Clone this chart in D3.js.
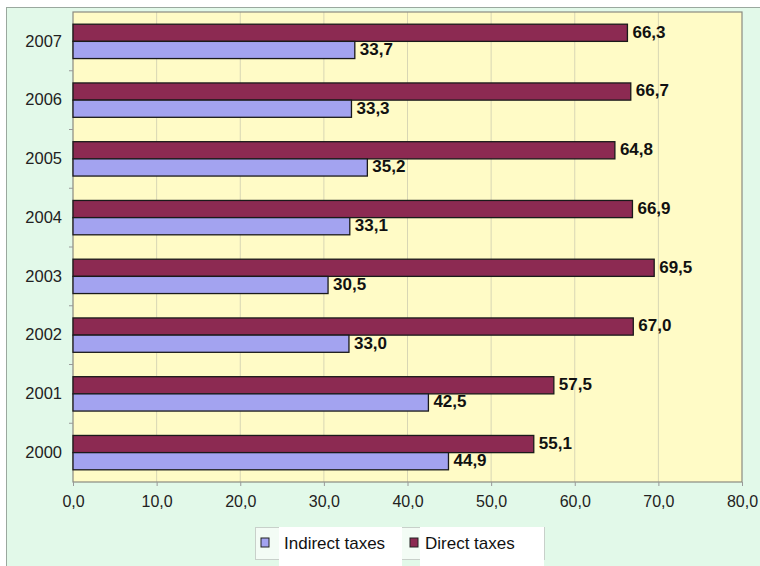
<!DOCTYPE html>
<html>
<head>
<meta charset="utf-8">
<script src="https://cdn.jsdelivr.net/npm/d3@7"></script>
<style>
  body { margin: 0; background: #fff; }
  text { font-family: "Liberation Sans", Arial, sans-serif; }
</style>
</head>
<body>
<div id="chart"></div>
<script>
// dados
var anos = ["2007", "2006", "2005", "2004", "2003", "2002", "2001", "2000"];
var diretos = [66.3, 66.7, 64.8, 66.9, 69.5, 67.0, 57.5, 55.1];
var indiretos = [33.7, 33.3, 35.2, 33.1, 30.5, 33.0, 42.5, 44.9];
var series = ["Indirect taxes", "Direct taxes"];
var ticksX = [0, 10, 20, 30, 40, 50, 60, 70, 80];

var cores = { "Indirect taxes": "#a3a3f0", "Direct taxes": "#8c2a52" };
var fmt = d => d.toFixed(1).replace(".", ",");

var W = 760, H = 566;
var plot = { left: 73, top: 12, right: 742, bottom: 482 };

var svg = d3.select("#chart").append("svg")
    .attr("width", W).attr("height", H);

// fundo
svg.append("rect")
    .attr("x", 6.5).attr("y", 7.5).attr("width", 770).attr("height", 570)
    .attr("fill", "#e2f9e9").attr("stroke", "#9aa89e");

svg.append("rect")
    .attr("x", plot.left).attr("y", plot.top)
    .attr("width", plot.right - plot.left).attr("height", plot.bottom - plot.top)
    .attr("fill", "#fffbc6");

/*
 * As escalas
 */
var x = d3.scaleLinear().domain([0, 80]).range([plot.left, plot.right]);
var y = d3.scaleBand().domain(anos).range([plot.top, plot.bottom]);
var y1 = d3.scaleBand().domain(["Direct taxes", "Indirect taxes"])
    .range([0, y.bandwidth()]).paddingOuter(0.71).paddingInner(0);

// grade
svg.append("g").selectAll("line")
    .data(ticksX.slice(1, -1))
    .enter().append("line")
      .attr("x1", d => x(d)).attr("x2", d => x(d))
      .attr("y1", plot.top).attr("y2", plot.bottom)
      .attr("stroke", "#d8d6b4").attr("stroke-width", 1);

svg.append("rect")
    .attr("x", plot.left).attr("y", plot.top)
    .attr("width", plot.right - plot.left).attr("height", plot.bottom - plot.top)
    .attr("fill", "none").attr("stroke", "#8a8a80").attr("stroke-width", 1.2);

/*
 * As marcas
 */
var linhas = anos.map((a, i) => ({ ano: a, vals: [
    { s: "Direct taxes", v: diretos[i] },
    { s: "Indirect taxes", v: indiretos[i] }] }));

var grupos = svg.append("g").selectAll("g")
    .data(linhas).enter().append("g")
      .attr("transform", d => "translate(0," + y(d.ano) + ")");

grupos.selectAll("rect")
    .data(d => d.vals).enter().append("rect")
      .attr("x", x(0))
      .attr("y", d => y1(d.s))
      .attr("width", d => x(d.v) - x(0))
      .attr("height", y1.bandwidth())
      .attr("fill", d => cores[d.s])
      .attr("stroke", "#1a1a1a").attr("stroke-width", 1.3);

grupos.selectAll("text")
    .data(d => d.vals).enter().append("text")
      .attr("x", d => x(d.v) + 5)
      .attr("y", d => y1(d.s) + y1.bandwidth() / 2 - 1)
      .attr("dy", "0.35em")
      .attr("font-size", 17).attr("font-weight", "bold").attr("fill", "#111")
      .text(d => fmt(d.v));

/*
 * Os eixos
 */
var eixoY = svg.append("g")
    .attr("transform", "translate(" + plot.left + ",0)")
    .call(d3.axisLeft(y).tickSize(0).tickPadding(11));
eixoY.select(".domain").remove();
eixoY.selectAll("text").attr("font-size", 16.5).attr("fill", "#222")
    .style("font-family", "Liberation Sans, Arial, sans-serif");
// pequenos traços entre categorias
svg.append("g").selectAll("line")
    .data(anos.slice(1))
    .enter().append("line")
      .attr("x1", plot.left - 4).attr("x2", plot.left)
      .attr("y1", d => y(d)).attr("y2", d => y(d))
      .attr("stroke", "#999");

var eixoX = svg.append("g")
    .attr("transform", "translate(0," + plot.bottom + ")")
    .call(d3.axisBottom(x).tickValues(ticksX).tickFormat(fmt).tickSize(4).tickPadding(10));
eixoX.select(".domain").remove();
eixoX.selectAll("line").attr("stroke", "#999");
eixoX.selectAll("text").attr("font-size", 16).attr("fill", "#222")
    .style("font-family", "Liberation Sans, Arial, sans-serif");

/*
 * A legenda
 */
var leg = svg.append("g");
leg.append("rect")
    .attr("x", 255.5).attr("y", 527.5).attr("width", 289).attr("height", 32)
    .attr("fill", "#f3fcf5").attr("stroke", "#c8d0ca");
var legX = [{ m: 261, t: 279, w: 123 }, { m: 410, t: 420, w: 124 }];
series.forEach(function (s, i) {
  leg.append("rect")
      .attr("x", legX[i].t).attr("y", 527).attr("width", legX[i].w).attr("height", 39)
      .attr("fill", "#fff");
  leg.append("rect")
      .attr("x", legX[i].m).attr("y", 538).attr("width", 8).attr("height", 9)
      .attr("fill", cores[s]).attr("stroke", "#222").attr("stroke-width", 1);
  leg.append("text")
      .attr("x", legX[i].t + 5).attr("y", 549)
      .attr("font-size", 17).attr("fill", "#111")
      .text(s);
});
</script>
</body>
</html>
